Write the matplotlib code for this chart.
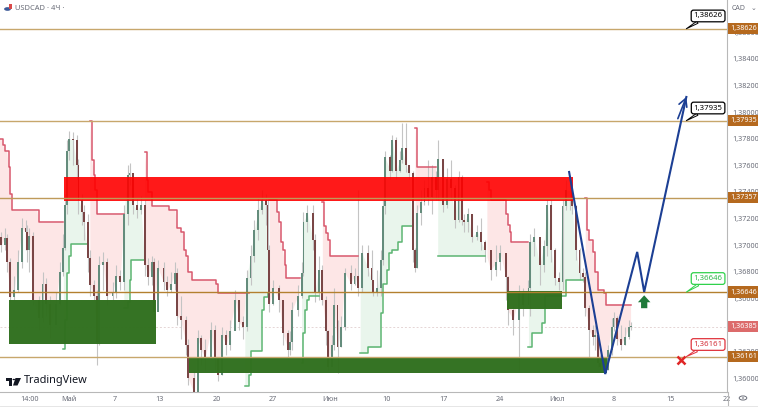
import numpy as np
import matplotlib
matplotlib.use('Agg')
import matplotlib.pyplot as plt
from matplotlib.patches import Rectangle, Circle, Polygon, FancyArrowPatch

plt.rcParams['font.family'] = ['Noto Sans', 'DejaVu Sans']

# 4H bar number, 0 = first bar of May
bars = [
    -36, -34, -33, -31, -29, -27, -25, -23, -22, -21,
    -19, -16, -14, -12, -10, -7, -5, -3, -2, -1,
    0, 2, 4, 5, 7, 8, 10, 11, 13, 15,
    16, 18, 20, 23, 25, 27, 29, 31, 32, 34,
    36, 38, 40, 42, 44, 45, 47, 50, 52, 54,
    56, 57, 59, 62, 63, 66, 68, 70, 72, 75,
    77, 79, 81, 83, 85, 88, 90, 92, 94, 96,
    98, 100, 102, 104, 105, 106, 108, 111, 113, 116,
    117, 118, 121, 123, 124, 126, 129, 130, 132, 134,
    136, 137, 139, 140, 142, 144, 146, 149, 151, 153,
    155, 158, 160, 161, 163, 165, 166, 167, 170, 171,
    173, 175, 176, 178, 180, 182, 183, 184, 186, 188,
    190, 192, 194, 195, 198, 200, 202, 204, 206, 208,
    209, 211, 213, 216, 218, 220, 223, 226, 228, 231,
    232, 235, 238, 240, 243, 244, 246, 249, 251, 253,
    255, 257, 259, 261, 263, 265, 266, 268, 270, 272,
    273, 275, 277, 278, 280, 281, 283, 285, 287, 288,
    290, 292, 294, 296, 297,
]
closes = [
    1.3700, 1.3705, 1.3687, 1.3661, 1.3666, 1.3687, 1.3713, 1.3710, 1.3696, 1.3707,
    1.3659, 1.3645, 1.3671, 1.3656, 1.3640, 1.3656, 1.3680, 1.3698, 1.3730, 1.3771,
    1.3780, 1.3779, 1.3760, 1.3734, 1.3725, 1.3717, 1.3690, 1.3670, 1.3662, 1.3627,
    1.3685, 1.3687, 1.3662, 1.3664, 1.3677, 1.3672, 1.3723, 1.3753, 1.3754, 1.3730,
    1.3726, 1.3730, 1.3685, 1.3676, 1.3687, 1.3650, 1.3683, 1.3672, 1.3666, 1.3671,
    1.3679, 1.3647, 1.3644, 1.3625, 1.3600, 1.3589, 1.3630, 1.3621, 1.3615, 1.3636,
    1.3614, 1.3602, 1.3632, 1.3625, 1.3635, 1.3659, 1.3642, 1.3638, 1.3675, 1.3692,
    1.3711, 1.3726, 1.3734, 1.3730, 1.3696, 1.3656, 1.3668, 1.3659, 1.3634, 1.3621,
    1.3627, 1.3651, 1.3662, 1.3679, 1.3717, 1.3724, 1.3704, 1.3664, 1.3681, 1.3659,
    1.3635, 1.3608, 1.3625, 1.3655, 1.3623, 1.3638, 1.3679, 1.3671, 1.3677, 1.3668,
    1.3694, 1.3683, 1.3674, 1.3665, 1.3668, 1.3689, 1.3729, 1.3766, 1.3756, 1.3779,
    1.3756, 1.3764, 1.3773, 1.3760, 1.3754, 1.3696, 1.3683, 1.3724, 1.3732, 1.3743,
    1.3736, 1.3751, 1.3741, 1.3765, 1.3730, 1.3750, 1.3743, 1.3719, 1.3751, 1.3719,
    1.3717, 1.3723, 1.3706, 1.3710, 1.3702, 1.3696, 1.3681, 1.3687, 1.3694, 1.3676,
    1.3651, 1.3644, 1.3664, 1.3655, 1.3668, 1.3702, 1.3706, 1.3685, 1.3699, 1.3730,
    1.3696, 1.3675, 1.3672, 1.3729, 1.3741, 1.3741, 1.3729, 1.3696, 1.3679, 1.3676,
    1.3653, 1.3636, 1.3631, 1.3632, 1.3611, 1.3608, 1.3606, 1.3621, 1.3638, 1.3645,
    1.3629, 1.3625, 1.3631, 1.3638, 1.3639,
]
highs = [
    1.3710, 1.3713, 1.3708, 1.3690, 1.3677, 1.3696, 1.3720, 1.3719, 1.3715, 1.3713,
    1.3710, 1.3662, 1.3680, 1.3675, 1.3662, 1.3665, 1.3687, 1.3708, 1.3738, 1.3779,
    1.3786, 1.3785, 1.3783, 1.3765, 1.3738, 1.3730, 1.3723, 1.3696, 1.3674, 1.3666,
    1.3692, 1.3695, 1.3690, 1.3672, 1.3685, 1.3681, 1.3730, 1.3760, 1.3762, 1.3750,
    1.3735, 1.3737, 1.3734, 1.3690, 1.3692, 1.3690, 1.3689, 1.3687, 1.3677, 1.3680,
    1.3687, 1.3683, 1.3662, 1.3647, 1.3629, 1.3606, 1.3636, 1.3632, 1.3629, 1.3642,
    1.3640, 1.3614, 1.3638, 1.3636, 1.3644, 1.3666, 1.3659, 1.3647, 1.3681, 1.3700,
    1.3719, 1.3735, 1.3741, 1.3738, 1.3734, 1.3700, 1.3674, 1.3670, 1.3659, 1.3636,
    1.3635, 1.3657, 1.3670, 1.3687, 1.3725, 1.3730, 1.3730, 1.3708, 1.3692, 1.3685,
    1.3662, 1.3636, 1.3632, 1.3668, 1.3644, 1.3647, 1.3683, 1.3685, 1.3683, 1.3741,
    1.3700, 1.3700, 1.3696, 1.3674, 1.3681, 1.3696, 1.3734, 1.3771, 1.3768, 1.3783,
    1.3781, 1.3771, 1.3792, 1.3792, 1.3760, 1.3756, 1.3698, 1.3730, 1.3741, 1.3749,
    1.3764, 1.3760, 1.3756, 1.3779, 1.3765, 1.3758, 1.3764, 1.3745, 1.3756, 1.3753,
    1.3723, 1.3728, 1.3723, 1.3715, 1.3720, 1.3704, 1.3696, 1.3700, 1.3700, 1.3692,
    1.3677, 1.3655, 1.3670, 1.3668, 1.3674, 1.3708, 1.3713, 1.3704, 1.3704, 1.3734,
    1.3734, 1.3698, 1.3680, 1.3734, 1.3749, 1.3749, 1.3743, 1.3730, 1.3698, 1.3683,
    1.3680, 1.3655, 1.3640, 1.3640, 1.3632, 1.3617, 1.3614, 1.3625, 1.3645, 1.3650,
    1.3647, 1.3640, 1.3638, 1.3644, 1.3642,
]
lows = [
    1.3695, 1.3696, 1.3680, 1.3657, 1.3659, 1.3665, 1.3683, 1.3696, 1.3687, 1.3680,
    1.3655, 1.3636, 1.3642, 1.3647, 1.3630, 1.3644, 1.3655, 1.3677, 1.3696, 1.3723,
    1.3764, 1.3760, 1.3750, 1.3723, 1.3715, 1.3704, 1.3680, 1.3662, 1.3659, 1.3610,
    1.3625, 1.3666, 1.3655, 1.3659, 1.3660, 1.3666, 1.3666, 1.3715, 1.3745, 1.3723,
    1.3720, 1.3723, 1.3677, 1.3670, 1.3670, 1.3644, 1.3662, 1.3666, 1.3662, 1.3665,
    1.3666, 1.3640, 1.3629, 1.3617, 1.3595, 1.3588, 1.3598, 1.3610, 1.3605, 1.3620,
    1.3605, 1.3598, 1.3602, 1.3617, 1.3621, 1.3636, 1.3636, 1.3629, 1.3635, 1.3670,
    1.3687, 1.3704, 1.3723, 1.3715, 1.3687, 1.3650, 1.3655, 1.3650, 1.3625, 1.3615,
    1.3617, 1.3621, 1.3647, 1.3660, 1.3677, 1.3710, 1.3696, 1.3657, 1.3659, 1.3655,
    1.3625, 1.3605, 1.3610, 1.3621, 1.3604, 1.3623, 1.3636, 1.3666, 1.3670, 1.3662,
    1.3665, 1.3677, 1.3670, 1.3662, 1.3662, 1.3662, 1.3685, 1.3723, 1.3750, 1.3755,
    1.3750, 1.3755, 1.3762, 1.3755, 1.3750, 1.3687, 1.3680, 1.3683, 1.3715, 1.3730,
    1.3730, 1.3723, 1.3734, 1.3734, 1.3725, 1.3728, 1.3734, 1.3713, 1.3717, 1.3715,
    1.3710, 1.3710, 1.3702, 1.3704, 1.3696, 1.3687, 1.3674, 1.3677, 1.3681, 1.3659,
    1.3640, 1.3632, 1.3605, 1.3647, 1.3659, 1.3647, 1.3692, 1.3670, 1.3680, 1.3692,
    1.3687, 1.3670, 1.3666, 1.3666, 1.3726, 1.3726, 1.3723, 1.3689, 1.3674, 1.3672,
    1.3647, 1.3616, 1.3625, 1.3621, 1.3608, 1.3606, 1.3604, 1.3606, 1.3617, 1.3635,
    1.3625, 1.3621, 1.3625, 1.3629, 1.3636,
]

# trend stops: (bars, prices) per leg
red_legs = [
    ([-37, -35, -34, -32, -31, -30, -16, -3], [1.3780, 1.3775, 1.3771, 1.3759, 1.3738, 1.3726, 1.3717, 1.3717]),
    ([11, 12, 13, 14, 15, 29], [1.3793, 1.3764, 1.3753, 1.3741, 1.3723, 1.3723]),
    ([40, 41, 42, 44, 53, 57, 59, 61, 62, 63, 65, 78, 79, 95],
     [1.3770, 1.3749, 1.3740, 1.3729, 1.3726, 1.3713, 1.3710, 1.3696, 1.3692, 1.3680, 1.3674, 1.3671, 1.3664, 1.3664]),
    ([106, 110, 111, 112, 113, 114, 115, 122], [1.3734, 1.3725, 1.3717, 1.3702, 1.3696, 1.3685, 1.3675, 1.3675]),
    ([134, 135, 136, 137, 138, 153], [1.3732, 1.3714, 1.3709, 1.3704, 1.3692, 1.3692]),
    ([183, 184, 194], [1.3788, 1.3759, 1.3759]),
    ([221, 222, 223, 231, 232, 233, 234, 243], [1.3747, 1.3741, 1.3734, 1.3723, 1.3715, 1.3710, 1.3702, 1.3702]),
    ([273, 274, 275, 277, 278, 280, 283, 284, 297], [1.3735, 1.3711, 1.3704, 1.3695, 1.3680, 1.3666, 1.3664, 1.3655, 1.3655]),
]
green_legs = [
    ([-3, -2, -1, 0, 1, 10], [1.3622, 1.3644, 1.3679, 1.3692, 1.3701, 1.3701]),
    ([29, 31, 32, 33, 40], [1.3653, 1.3657, 1.3674, 1.3689, 1.3689]),
    ([93, 95, 96, 102, 103, 105], [1.3594, 1.3602, 1.3620, 1.3651, 1.3661, 1.3664]),
    ([123, 124, 125, 126, 127, 132], [1.3611, 1.3634, 1.3651, 1.3659, 1.3662, 1.3662]),
    ([154, 158, 165, 166, 168, 169, 171, 174, 176, 182],
     [1.3619, 1.3623, 1.3649, 1.3671, 1.3681, 1.3694, 1.3696, 1.3702, 1.3714, 1.3714]),
    ([195, 220], [1.3692, 1.3692]),
    ([243, 245, 250, 252, 263, 272], [1.3623, 1.3634, 1.3641, 1.3662, 1.3674, 1.3674]),
]

# zones: bar from, bar to, price low, price high
red_zone = (-2.6, 266.5, 1.3733, 1.3751)
green_zones = [
    (-31.7, 46, 1.36256, 1.36586),
    (63.5, 284.7, 1.36038, 1.36158),
    (231.7, 260.8, 1.36519, 1.36654),
]

levels = [1.38626, 1.37935, 1.37357, 1.36646, 1.36161]
level_colors = ['#c7a76c', '#c7a76c', '#bf9a5a', '#b3802f', '#c7a76c']
last_price = 1.36385

forecast_bars = [264.5, 283.6, 300.5, 304.2, 326.5]
forecast_prices = [1.37549, 1.36030, 1.36948, 1.36647, 1.38113]

y_ticks = [1.36, 1.362, 1.364, 1.366, 1.368, 1.37, 1.372, 1.374, 1.376, 1.378, 1.38, 1.382, 1.384, 1.386]
x_ticks = [-21, 0, 24, 48, 78, 108, 138, 168, 198, 228, 258, 288, 318, 348]
x_labels = ['14:00', 'Май', '7', '13', '20', '27', 'Июн', '10', '17', '24', 'Июл', '8', '15', '22']
month_labels = ['Май', 'Июн', 'Июл']


def comma(value):
    return f'{value:.5f}'.replace('.', ',')


def draw_trend(ax, xs, ys, line_color, fill_color):
    xs = np.array(xs)
    ys = np.array(ys)
    grid = np.arange(xs[0], xs[-1] + 1)
    stop = ys[np.searchsorted(xs, grid, side='right') - 1]
    price = np.interp(grid, bars, closes)
    ax.fill_between(grid, stop, price, color=fill_color, lw=0, zorder=1)
    ax.plot(xs, ys, drawstyle='steps-post', color=line_color, lw=1.1, zorder=2.5)


fig = plt.figure(figsize=(7.58, 4.09), dpi=100)
ax = fig.add_axes([0, 17 / 409, 727 / 758, 392 / 409])
ax.set_xlim(-36.5, 348)
ax.set_ylim(1.35895, 1.38842)

for xs, ys in red_legs:
    draw_trend(ax, xs, ys, '#d8576c', '#fde6e6')
for xs, ys in green_legs:
    draw_trend(ax, xs, ys, '#5cb572', '#e9f5ec')

# candles, each opens at the previous close
opens = [closes[0] + 0.0006] + closes[:-1]
up_color = '#648c7c'
down_color = '#7a4646'
for b, o, c, h, l in zip(bars, opens, closes, highs, lows):
    ax.vlines(b, l, h, color='#c4c4c4', lw=0.8, zorder=2)
    ax.bar(b, abs(c - o), bottom=min(o, c), width=1.0,
           color=up_color if c >= o else down_color, lw=0, zorder=3)

ax.add_patch(Rectangle((red_zone[0], red_zone[2]), red_zone[1] - red_zone[0], red_zone[3] - red_zone[2],
                       fc='#ff0000', ec='none', alpha=0.9, zorder=5))
for x0, x1, y0, y1 in green_zones:
    ax.add_patch(Rectangle((x0, y0), x1 - x0, y1 - y0, fc='#31701f', ec='none', alpha=0.98, zorder=5))

for level, level_color in zip(levels, level_colors):
    ax.axhline(level, color=level_color, lw=1.0, zorder=6)
ax.axhline(last_price, color='#e5d5d5', lw=0.7, ls=(0, (2, 2)), zorder=0.5)

ax.plot(forecast_bars, forecast_prices, color='#1c3f94', lw=1.5, zorder=7, solid_joinstyle='miter')
ax.annotate('', xy=(forecast_bars[-1], forecast_prices[-1]), xytext=(322, 1.3795),
            arrowprops=dict(arrowstyle='->,head_length=0.55,head_width=0.3', color='#1c3f94', lw=1.2,
                            mutation_scale=10, shrinkA=0, shrinkB=0), zorder=7)
ax.add_patch(FancyArrowPatch((304.2, 1.36525), (304.2, 1.36622), mutation_scale=1,
                             arrowstyle='simple,head_width=9,head_length=5,tail_width=4.5',
                             shrinkA=0, shrinkB=0, fc='#1f7a3a', ec='none', zorder=7))
ax.plot([323.5], [1.36135], marker='x', ms=6, mew=1.8, color='#e02626', zorder=7)

# callouts
callouts = [
    (1.38626, 'black', 'black', 1.38722),
    (1.37935, 'black', 'black', 1.38030),
    (1.36646, '#2fd14b', '#2fb84a', 1.36748),
    (1.36161, '#e0333c', '#d42f38', 1.36252),
]
for price, edge, color, box_y in callouts:
    ax.annotate(comma(price), xy=(326.5, price), xytext=(338, box_y), ha='center', va='center',
                fontsize=5.6, fontweight='bold', color=color,
                bbox=dict(boxstyle='round,pad=0.3', fc='white', ec=edge, lw=0.9),
                arrowprops=dict(arrowstyle='wedge,tail_width=0.3', fc='white', ec=edge, lw=0.7,
                                shrinkA=0, shrinkB=0),
                zorder=8)

ax.set_xticks(x_ticks)
ax.set_xticklabels(x_labels)
for tick in ax.get_xticklabels():
    if tick.get_text() in month_labels:
        tick.set_fontweight('bold')
ax.tick_params(axis='x', length=0, labelsize=5.2, labelcolor='#6a6d78', pad=3)
ax.yaxis.tick_right()
ax.set_yticks(y_ticks)
ax.set_yticklabels([comma(t) for t in y_ticks])
ax.tick_params(axis='y', length=0, labelsize=5.2, labelcolor='#6a6d78', pad=4)
for side in ['top', 'left']:
    ax.spines[side].set_visible(False)
ax.spines['bottom'].set_color('#b8b8b8')
ax.spines['right'].set_color('#b8b8b8')

# price tags on the right scale
trans = ax.get_yaxis_transform()
for level in levels:
    ax.text(1.0045, level, comma(level), transform=trans, ha='left', va='center', fontsize=5.2, color='white',
            bbox=dict(boxstyle='square,pad=0.3', fc='#b5691e', ec='none'), zorder=9, clip_on=False)
ax.text(1.0045, last_price, comma(last_price), transform=trans, ha='left', va='center', fontsize=5.2, color='white',
        bbox=dict(boxstyle='square,pad=0.3', fc='#dc6b6b', ec='none'), zorder=9, clip_on=False)

# header and logo, placed in figure pixels
W, H = 758, 409
fig.text(15 / W, 1 - 8 / H, 'USDCAD · 4Ч ·', fontsize=5.4, color='#6a6d78', va='center')
fig.text(732 / W, 1 - 8 / H, 'CAD', fontsize=5.0, color='#6a6d78', va='center')
fig.text(751 / W, 1 - 8 / H, '⌄', fontsize=5, color='#6a6d78', va='center', family='DejaVu Sans')
fig.add_artist(Circle((7.5 / W, 1 - 9 / H), 0.0045, fc='#3d5a98', ec='none'))
fig.add_artist(Rectangle((8.5 / W, 1 - 9 / H), 3.5 / W, 5 / H, fc='#d94a4a', ec='none'))
fig.add_artist(Circle((743 / W, 1 - 398 / H), 0.005, fc='white', ec='#6a6d78', lw=0.7))
fig.add_artist(Circle((743 / W, 1 - 398 / H), 0.0015, fc='#6a6d78', ec='none'))

fig.add_artist(Rectangle((6 / W, 1 - 380.5 / H), 6 / W, 2.5 / H, fc='#131722', ec='none'))
fig.add_artist(Rectangle((8.5 / W, 1 - 385.5 / H), 3 / W, 6 / H, fc='#131722', ec='none'))
fig.add_artist(Circle((13.8 / W, 1 - 379.5 / H), 0.0017, fc='#131722', ec='none'))
fig.add_artist(Polygon([(15.5 / W, 1 - 378 / H), (21 / W, 1 - 378 / H), (17.5 / W, 1 - 385.5 / H), (13 / W, 1 - 385.5 / H)],
                       closed=True, fc='#131722', ec='none'))
fig.text(24 / W, 1 - 381 / H, 'TradingView', fontsize=7.9, fontweight='bold', color='#131722', va='center')

# price scale line runs on below the time scale
fig.add_artist(plt.Line2D([727.5 / W, 727.5 / W], [1 - 405 / H, 1 - 392 / H], color='#b8b8b8', lw=0.8))
fig.add_artist(plt.Line2D([0, 1], [1 - 405.5 / H, 1 - 405.5 / H], color='#e6e6e6', lw=0.7))

fig.savefig('out.png', dpi=100, facecolor='white')
plt.close(fig)
